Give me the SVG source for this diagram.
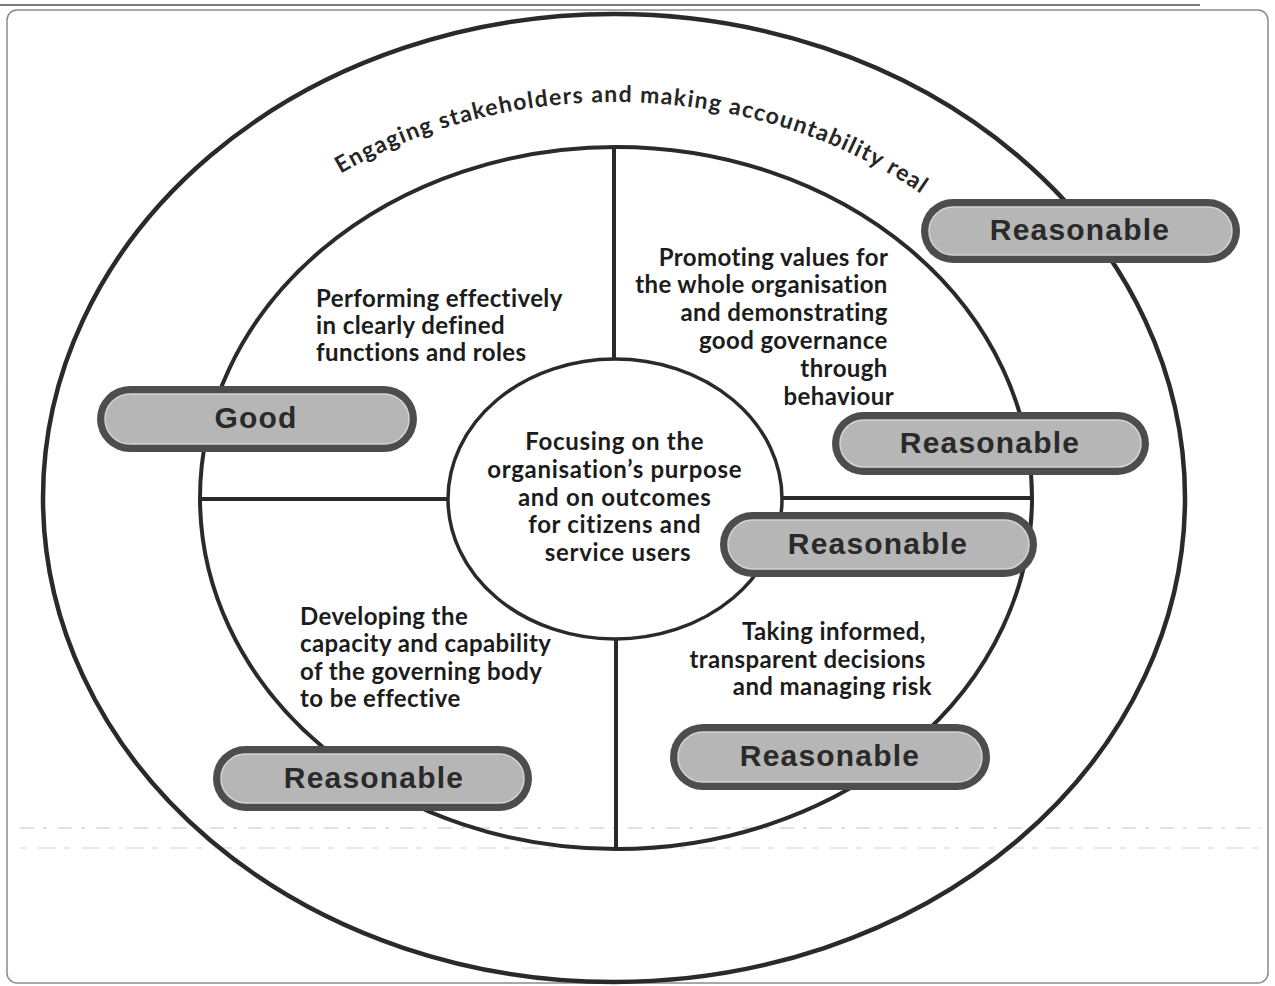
<svg xmlns="http://www.w3.org/2000/svg" width="1275" height="986" viewBox="0 0 1275 986">
  <style>
    .ring { fill: none; stroke: #2a2a2a; }
    .div { stroke: #2a2a2a; stroke-width: 4; }
    .lbl { font-family: Lato, "Open Sans", "Liberation Sans", sans-serif; font-weight: 700; font-size: 24px; fill: #1c1c1c; letter-spacing: 0.4px; }
    .ctr { font-family: Lato, "Open Sans", "Liberation Sans", sans-serif; font-weight: 700; font-size: 24px; fill: #1c1c1c; letter-spacing: 0.7px; }
    .arc { font-family: Lato, "Open Sans", "Liberation Sans", sans-serif; font-weight: 700; font-size: 23px; fill: #262626; letter-spacing: 1.3px; }
    .pill-out { fill: #4d4d4d; }
    .pill-in { fill: #b6b6b6; stroke: #d4d4d4; stroke-width: 1.5; }
    .pill-txt { font-family: "Liberation Sans", Arial, sans-serif; font-weight: 700; font-size: 30px; fill: #2a2a2a; letter-spacing: 1.2px; text-anchor: middle; }
  </style>
  <defs>
    <path id="arcPath" d="M 137,498 A 478 396 0 0 1 1093,498"/>
  </defs>

  <rect width="1275" height="986" fill="#ffffff"/>

  <!-- page frame -->
  <g id="frame">
    <line x1="0" y1="5" x2="1200" y2="5" stroke="#7a7a7a" stroke-width="2"/>
    <rect x="7" y="10" width="1261" height="973" rx="10" fill="none" stroke="#8a8a8a" stroke-width="1.5"/>
    <line x1="20" y1="828" x2="1260" y2="828" stroke="#d8d8d8" stroke-width="1.5" stroke-dasharray="14 9 4 11"/>
    <line x1="20" y1="848" x2="1260" y2="848" stroke="#e2e2e2" stroke-width="1.5" stroke-dasharray="6 12 18 8"/>
  </g>

  <!-- rings -->
  <g id="outer-ring">
    <ellipse class="ring" cx="614" cy="498" rx="571" ry="484" stroke-width="4.5"/>
    <text class="arc"><textPath href="#arcPath" startOffset="51.4%" text-anchor="middle">Engaging stakeholders and making accountability real</textPath></text>
  </g>

  <g id="middle-ring">
    <ellipse class="ring" cx="616" cy="498" rx="416" ry="351" stroke-width="4"/>
  </g>

  <!-- quadrant dividers -->
  <g id="connectors">
    <line class="div" x1="614" y1="148" x2="614" y2="360"/>
    <line class="div" x1="616" y1="639" x2="616" y2="849"/>
    <line class="div" x1="201" y1="499" x2="449" y2="499"/>
    <line class="div" x1="781" y1="498" x2="1031" y2="498"/>
  </g>

  <g id="centre">
    <ellipse class="ring" cx="615" cy="499" rx="167" ry="140" stroke-width="3.5" fill="#ffffff"/>
    <text class="ctr" text-anchor="middle">
      <tspan x="618" y="450">Focusing on the</tspan>
      <tspan x="618" y="478">organisation’s purpose</tspan>
      <tspan x="618" y="506">and on outcomes</tspan>
      <tspan x="618" y="533">for citizens and</tspan>
      <tspan x="618" y="561">service users</tspan>
    </text>
  </g>

  <g id="roles">
    <text class="lbl">
      <tspan x="316" y="307">Performing effectively</tspan>
      <tspan x="316" y="334">in clearly defined</tspan>
      <tspan x="316" y="361">functions and roles</tspan>
    </text>
  </g>

  <g id="values">
    <text class="lbl" text-anchor="end">
      <tspan x="894" y="266">Promoting values for</tspan>
      <tspan x="894" y="293">the whole organisation</tspan>
      <tspan x="894" y="321">and demonstrating</tspan>
      <tspan x="894" y="349">good governance</tspan>
      <tspan x="894" y="377">through</tspan>
      <tspan x="894" y="405">behaviour</tspan>
    </text>
  </g>

  <g id="capacity">
    <text class="lbl">
      <tspan x="300" y="625">Developing the</tspan>
      <tspan x="300" y="652">capacity and capability</tspan>
      <tspan x="300" y="680">of the governing body</tspan>
      <tspan x="300" y="707">to be effective</tspan>
    </text>
  </g>

  <g id="decisions">
    <text class="lbl" text-anchor="end">
      <tspan x="932" y="640">Taking informed,</tspan>
      <tspan x="932" y="668">transparent decisions</tspan>
      <tspan x="932" y="695">and managing risk</tspan>
    </text>
  </g>

  <!-- rating badges -->
  <g id="rating-engaging">
    <rect class="pill-out" x="921" y="199" width="319" height="64" rx="32"/>
    <rect class="pill-in" x="929" y="207" width="303" height="48" rx="24"/>
    <text class="pill-txt" x="1080" y="240">Reasonable</text>
  </g>

  <g id="rating-roles">
    <rect class="pill-out" x="97" y="386" width="320" height="66" rx="33"/>
    <rect class="pill-in" x="105" y="394" width="304" height="50" rx="25"/>
    <text class="pill-txt" x="256" y="428">Good</text>
  </g>

  <g id="rating-values">
    <rect class="pill-out" x="832" y="412" width="317" height="63" rx="31.5"/>
    <rect class="pill-in" x="840" y="420" width="301" height="47" rx="23.5"/>
    <text class="pill-txt" x="990" y="453">Reasonable</text>
  </g>

  <g id="rating-purpose">
    <rect class="pill-out" x="720" y="512" width="317" height="65" rx="32.5"/>
    <rect class="pill-in" x="728" y="520" width="301" height="49" rx="24.5"/>
    <text class="pill-txt" x="878" y="554">Reasonable</text>
  </g>

  <g id="rating-decisions">
    <rect class="pill-out" x="670" y="724" width="320" height="66" rx="33"/>
    <rect class="pill-in" x="678" y="732" width="304" height="50" rx="25"/>
    <text class="pill-txt" x="830" y="766">Reasonable</text>
  </g>

  <g id="rating-capacity">
    <rect class="pill-out" x="213" y="746" width="319" height="65" rx="32.5"/>
    <rect class="pill-in" x="221" y="754" width="303" height="49" rx="24.5"/>
    <text class="pill-txt" x="374" y="788">Reasonable</text>
  </g>
</svg>
